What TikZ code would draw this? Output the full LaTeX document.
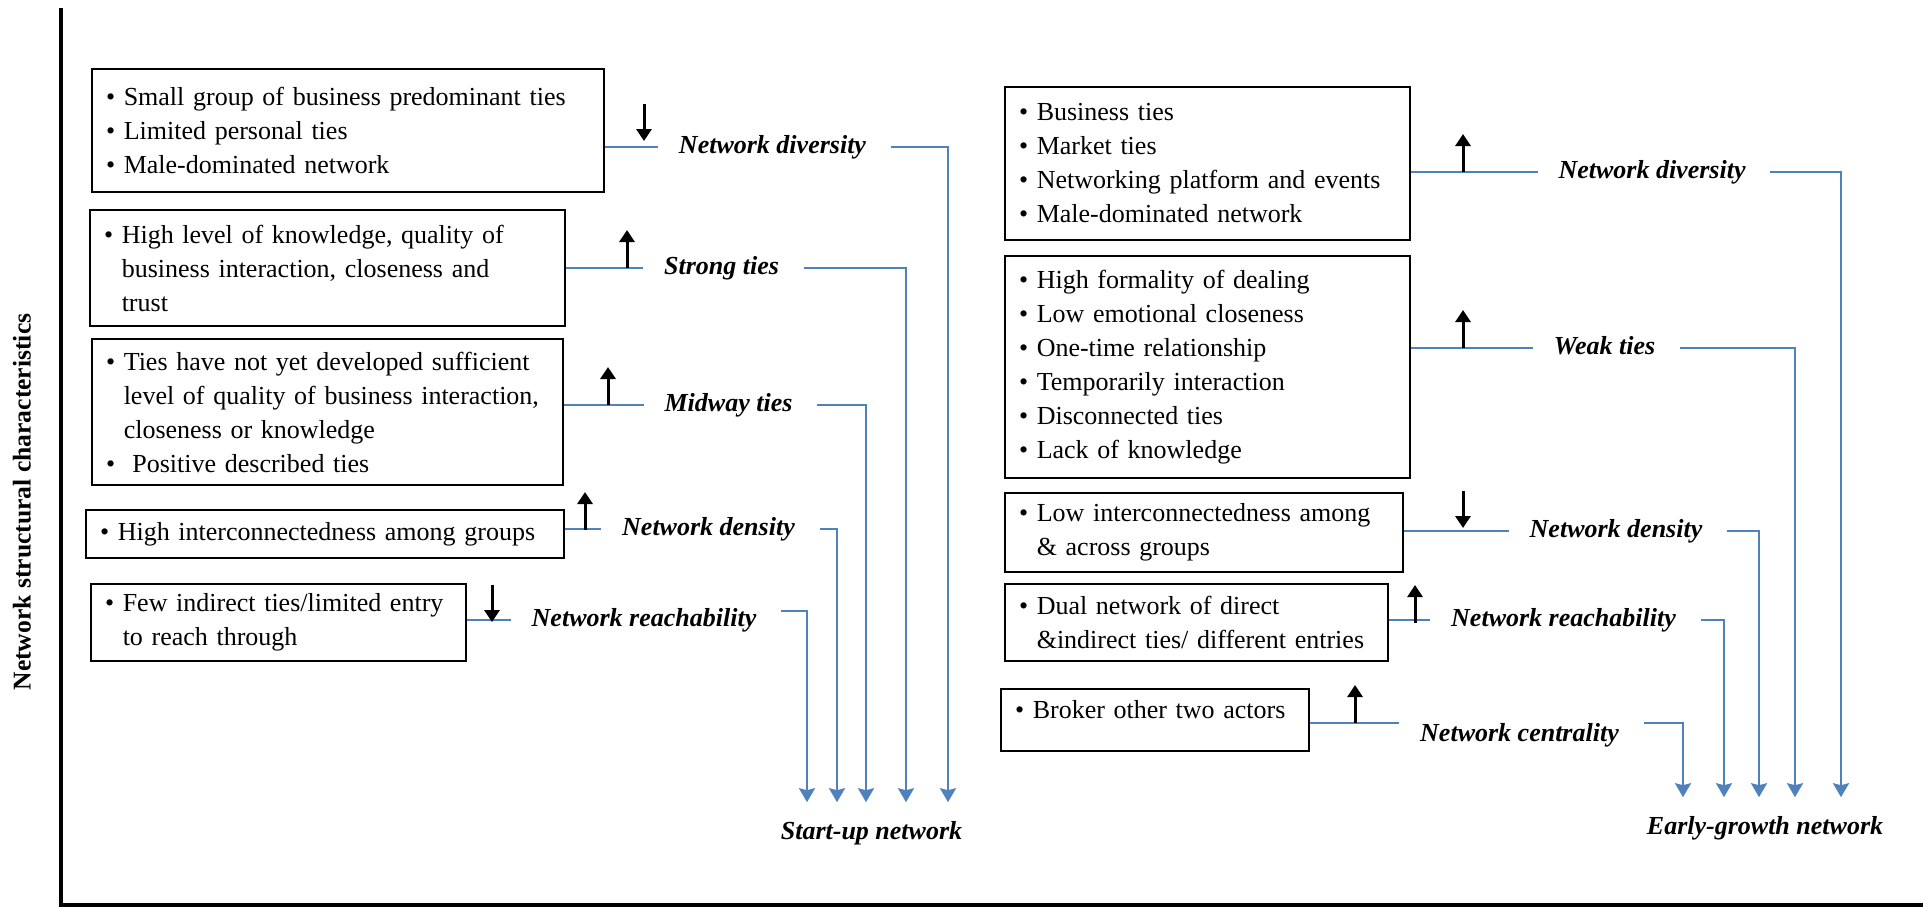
\documentclass[tikz,border=0pt]{standalone}
\usepackage{fontspec}
\setmainfont{Liberation Serif}
\usetikzlibrary{arrows.meta}
\definecolor{wordblue}{RGB}{79,129,189}
\newcommand{\itm}{\textbullet~}
\newcommand{\itmgap}{\hphantom{\textbullet~}}

\begin{document}
\begin{tikzpicture}[x=0.5pt,y=-0.5pt,>={Stealth[length=7pt,width=8pt,inset=1pt]},thick,
    item box/.style={draw,line width=1pt,align=left,inner xsep=7pt,inner ysep=0pt,font=\fontsize{13}{17}\selectfont},
    factor/.style={font=\fontsize{13}{17}\selectfont\bfseries\itshape,inner xsep=10pt,inner ysep=2pt,text height=9pt,text depth=3pt},
    outcome/.style={font=\fontsize{13}{17}\selectfont\bfseries\itshape,inner xsep=2pt,inner ysep=9pt,text height=9pt,text depth=3pt},
    link/.style={-,draw=wordblue,line width=1.2pt},
    flow/.style={->,draw=wordblue,line width=1.2pt,shorten <=2pt},
    sign/.style={-{Triangle[length=6pt,width=7.5pt]},line width=1.5pt},
    axis/.style={line width=2pt}]

            \useasboundingbox (0,0) rectangle (1923,907);

            % axes
            \coordinate (origin) at (61,905);
            \draw[axis] (61,8) -- (origin) -- (1923,905);
            \node[rotate=90,font=\fontsize{12.8}{15}\selectfont\bfseries] (yaxis) at (22,502) {Network structural characteristics};

            % start-up side
            \node[item box,text width=242pt,minimum height=61.5pt] (b1) at (348,130) {\itm Small group of business predominant ties\\ \itm Limited personal ties\\ \itm Male-dominated network};
            \node[item box,text width=223.5pt,minimum height=58pt] (b2) at (327.5,268) {\itm High level of knowledge, quality of\\ \itmgap business interaction, closeness and\\ \itmgap trust};
            \node[item box,text width=221.5pt,minimum height=73pt] (b3) at (327.5,412) {\itm Ties have not yet developed sufficient\\ \itmgap level of quality of business interaction,\\ \itmgap closeness or knowledge\\ \textbullet~~Positive described ties};
            \node[item box,text width=225pt,minimum height=24pt] (b4) at (325,534) {\itm High interconnectedness among groups};
            \node[item box,text width=173.5pt,minimum height=38.5pt] (b5) at (278.5,622) {\itm Few indirect ties/limited entry\\ \itmgap to reach through};

            \node[factor] (n1) at (772.5,147) {Network diversity};
            \node[factor] (n2) at (721.5,268) {Strong ties};
            \node[factor] (n3) at (728.5,405) {Midway ties};
            \node[factor] (n4) at (708.5,529) {Network density};
            \node[factor] (n5) at (644,620) {Network reachability};

            \node[outcome] (s1) at (871.5,833) {Start-up network};

            \draw[link] (b1.east |- n1.west) -- (n1.west);
            \draw[link] (b2.east |- n2.west) -- (n2.west);
            \draw[link] (b3.east |- n3.west) -- (n3.west);
            \draw[link] (b4.east |- n4.west) -- (n4.west);
            \draw[link] (b5.east |- n5.west) -- (n5.west);

            \draw[flow] (n1.east) -| ([xshift=38.25pt]s1.north);
            \draw[flow] (n2.east) -| ([xshift=17.25pt]s1.north);
            \draw[flow] (n3.east) -| ([xshift=-2.75pt]s1.north);
            \draw[flow] (n4.east) -| ([xshift=-17.25pt]s1.north);
            \draw[flow] ([yshift=4.5pt]n5.east) -| ([xshift=-32.25pt]s1.north);

            \coordinate (t1) at (644,104);
            \coordinate (t2) at (627,268);
            \coordinate (t3) at (608,405);
            \coordinate (t4) at (585,530);
            \coordinate (t5) at (492,585);
            \draw[sign] (t1) -- ++(0,37);
            \draw[sign] (t2) -- ++(0,-38);
            \draw[sign] (t3) -- ++(0,-38);
            \draw[sign] (t4) -- ++(0,-38);
            \draw[sign] (t5) -- ++(0,37);

            % early-growth side
            \node[item box,text width=188.5pt,minimum height=76.5pt] (b6) at (1207.5,163) {\itm Business ties\\ \itm Market ties\\ \itm Networking platform and events\\ \itm Male-dominated network};
            \node[item box,text width=188.5pt,minimum height=111pt] (b7) at (1207.5,367) {\itm High formality of dealing\\ \itm Low emotional closeness\\ \itm One-time relationship\\ \itm Temporarily interaction\\ \itm Disconnected ties\\ \itm Lack of knowledge};
            \node[item box,text width=185pt,minimum height=39.5pt] (b8) at (1204,532.5) {\itm Low interconnectedness among\\ \itmgap \& across groups};
            \node[item box,text width=177.5pt,minimum height=38.5pt] (b9) at (1196.5,622.5) {\itm Dual network of direct\\ \itmgap \&indirect ties/ different entries};
            \node[item box,text width=140pt,minimum height=31pt,text depth=11pt] (b10) at (1155,720) {\itm Broker other two actors};

            \node[factor] (n6) at (1652,172) {Network diversity};
            \node[factor] (n7) at (1604.5,348) {Weak ties};
            \node[factor] (n8) at (1616,531) {Network density};
            \node[factor] (n9) at (1563.5,620) {Network reachability};
            \node[factor] (n10) at (1519.5,735) {Network centrality};

            \node[outcome] (s2) at (1765,828) {Early-growth network};

            \draw[link] (b6.east |- n6.west) -- (n6.west);
            \draw[link] (b7.east |- n7.west) -- (n7.west);
            \draw[link] (b8.east |- n8.west) -- (n8.west);
            \draw[link] (b9.east |- n9.west) -- (n9.west);
            \draw[link] (b10.east |- 0,723) -- (n10.west |- 0,723);

            \draw[flow] (n6.east) -| ([xshift=38pt]s2.north);
            \draw[flow] (n7.east) -| ([xshift=15pt]s2.north);
            \draw[flow] (n8.east) -| ([xshift=-3pt]s2.north);
            \draw[flow] (n9.east) -| ([xshift=-20.5pt]s2.north);
            \draw[flow] (n10.east |- 0,723) -| ([xshift=-41pt]s2.north);

            \coordinate (t6) at (1463,172);
            \coordinate (t7) at (1463,348);
            \coordinate (t8) at (1463,491);
            \coordinate (t9) at (1415,623);
            \coordinate (t10) at (1355,723);
            \draw[sign] (t6) -- ++(0,-38);
            \draw[sign] (t7) -- ++(0,-38);
            \draw[sign] (t8) -- ++(0,37);
            \draw[sign] (t9) -- ++(0,-38);
            \draw[sign] (t10) -- ++(0,-38);

\end{tikzpicture}
\end{document}
